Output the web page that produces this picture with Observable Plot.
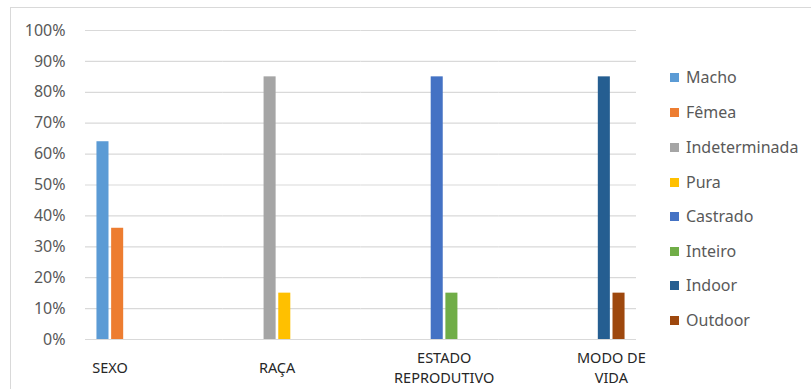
<!DOCTYPE html>
<html>
<head>
<meta charset="utf-8">
<script src="https://cdn.jsdelivr.net/npm/d3@7"></script>
<script src="https://cdn.jsdelivr.net/npm/@observablehq/plot@0.6"></script>
<style>
  html, body { margin: 0; padding: 0; background: #fff; overflow: hidden; }
  #wrap { position: relative; width: 811px; height: 389px; overflow: hidden; font-family: "Noto Sans", sans-serif; }
  #frame { position: absolute; left: 10px; top: 7px; width: 900px; height: 500px; border: 1px solid #d9d9d9; box-sizing: border-box; }
  #chart { position: absolute; left: 0; top: 0; }
  #legend { position: absolute; left: 670px; top: 0; }
  .item { position: absolute; left: 0; white-space: nowrap; display: flex; align-items: center; height: 20px; }
  .sw { width: 9px; height: 9px; margin-right: 7px; }
  .lb { font-size: 16px; color: #595959; }
</style>
</head>
<body>
<div id="wrap">
  <div id="frame"></div>
  <div id="chart"></div>
  <div id="legend"></div>
</div>
<script>
const categories = ["SEXO", "RAÇA", "ESTADO\nREPRODUTIVO", "MODO DE\nVIDA"];
const series = ["Macho", "Fêmea", "Indeterminada", "Pura", "Castrado", "Inteiro", "Indoor", "Outdoor"];
const seriesCategory = [0, 0, 1, 1, 2, 2, 3, 3];
const values = [64, 36, 85, 15, 85, 15, 85, 15];
const colors = ["#5b9bd5", "#ed7d31", "#a5a5a5", "#ffc000", "#4472c4", "#70ad47", "#255e91", "#9e480e"];
const yTicks = [0, 10, 20, 30, 40, 50, 60, 70, 80, 90, 100];
const legendY = [77, 112, 147, 182, 216, 251, 285, 320];

const rows = series.map((s, i) => ({
  series: s,
  cat: categories[seriesCategory[i]],
  value: values[i],
  first: i % 2 === 0
}));

const plot = Plot.plot({
  width: 811,
  height: 389,
  marginLeft: 85,
  marginRight: 175,
  marginTop: 30,
  marginBottom: 50,
  style: { fontFamily: "Noto Sans, sans-serif", fontSize: "16px", color: "#595959", background: "transparent" },
  facet: { data: rows, x: "cat" },
  fx: { domain: categories, padding: 0, round: false, axis: null, label: null },
  x: { domain: series, paddingInner: 0.18, paddingOuter: 0.78, round: false, axis: null, label: null },
  y: { domain: [0, 100], ticks: yTicks, tickFormat: d => d + "%", tickSize: 0, tickPadding: 20, label: null },
  color: { domain: series, range: colors },
  marks: [
    Plot.ruleY(yTicks, { y: d => d, stroke: "#d9d9d9", strokeWidth: 1.2 }),
    Plot.barY(rows, { x: "series", y: "value", fill: "series" }),
    Plot.text(rows, {
      filter: d => d.first,
      x: "series",
      text: "cat",
      frameAnchor: "bottom",
      dx: 7,
      dy: 27,
      lineAnchor: "middle",
      lineHeight: 1.35,
      fontSize: 14.5,
      fill: "#262626"
    })
  ]
});
document.getElementById("chart").appendChild(plot);

const legend = document.getElementById("legend");
series.forEach((s, i) => {
  const it = document.createElement("div");
  it.className = "item";
  it.style.top = (legendY[i] - 10) + "px";
  const sw = document.createElement("div");
  sw.className = "sw";
  sw.style.background = colors[i];
  const lb = document.createElement("span");
  lb.className = "lb";
  lb.textContent = s;
  it.appendChild(sw);
  it.appendChild(lb);
  legend.appendChild(it);
});
</script>
</body>
</html>
